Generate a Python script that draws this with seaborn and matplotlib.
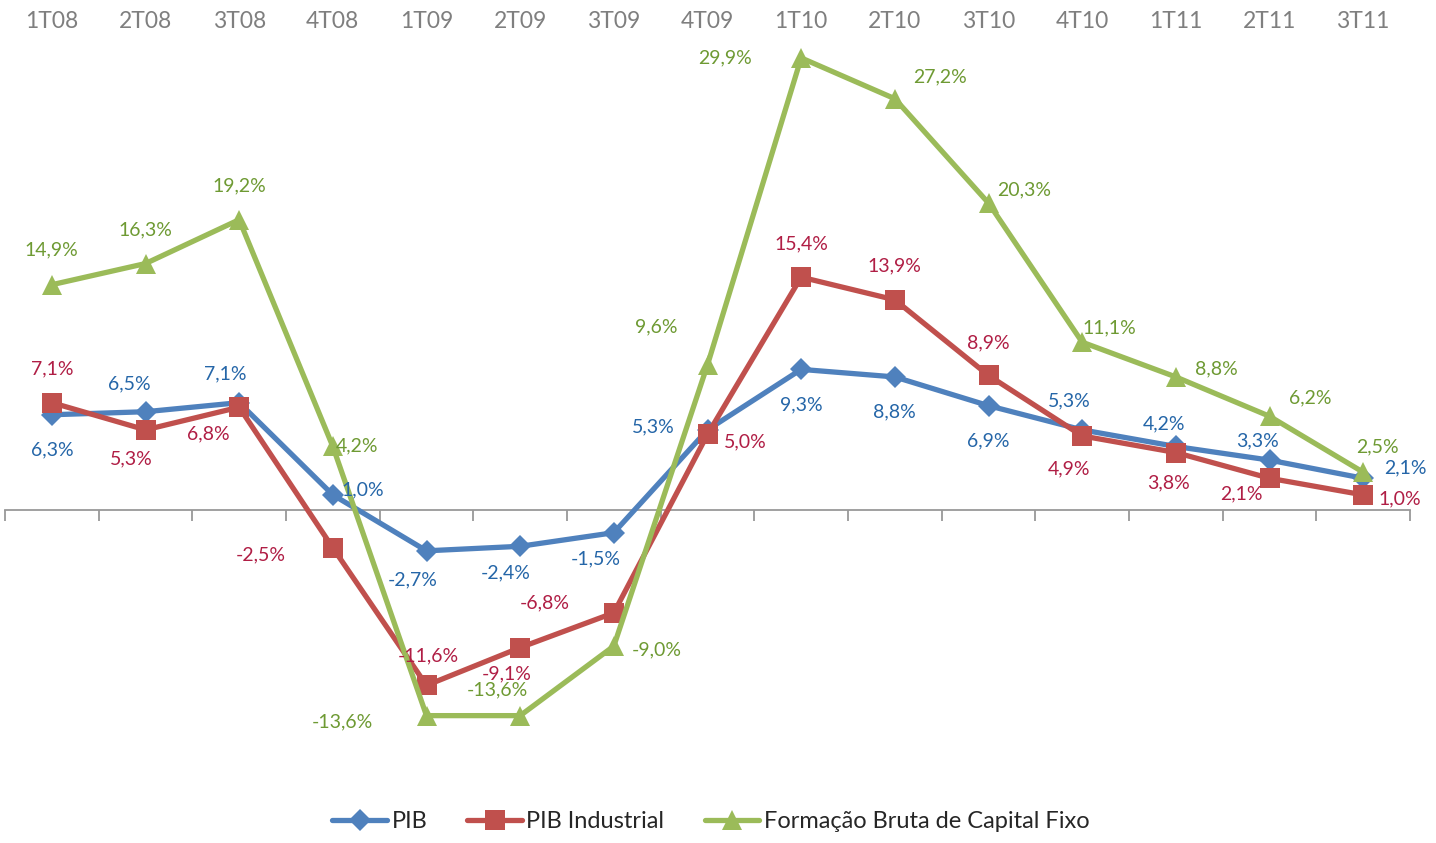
import numpy as np
import pandas as pd
import seaborn as sns
import matplotlib.pyplot as plt

trimestres = ['1T08', '2T08', '3T08', '4T08', '1T09', '2T09', '3T09', '4T09',
              '1T10', '2T10', '3T10', '4T10', '1T11', '2T11', '3T11']
pib = [6.3, 6.5, 7.1, 1.0, -2.7, -2.4, -1.5, 5.3, 9.3, 8.8, 6.9, 5.3, 4.2, 3.3, 2.1]
pib_industrial = [7.1, 5.3, 6.8, -2.5, -11.6, -9.1, -6.8, 5.0, 15.4, 13.9, 8.9, 4.9, 3.8, 2.1, 1.0]
fbcf = [14.9, 16.3, 19.2, 4.2, -13.6, -13.6, -9.0, 9.6, 29.9, 27.2, 20.3, 11.1, 8.8, 6.2, 2.5]
series_nomes = ['PIB', 'PIB Industrial', 'Formação Bruta de Capital Fixo']

# posição dos rótulos em pixels relativos ao ponto (como o Excel colocou)
off_pib = [(0, -35), (-16, 28), (-14, 29), (30, 5), (-14, -29), (-14, -27), (-18, -26),
           (-54, 3), (0, -35), (0, -35), (0, -35), (-13, 29), (-12, 23), (-12, 19), (42, 10)]
off_ind = [(0, 34), (-14, -29), (-31, -27), (-72, -7), (2, 30), (-13, -26), (-69, 10),
           (38, -7), (0, 33), (0, 34), (0, 33), (-13, -33), (-7, -30), (-28, -16), (37, -4)]
off_fbcf = [(0, 35), (0, 34), (0, 34), (24, 1), (-84, -6), (-23, 26), (43, -4),
            (-51, 38), (-76, 0), (45, 22), (36, 13), (27, 14), (41, 8), (41, 18), (14, 25)]

sns.set_style('white')
plt.rcParams['font.family'] = ['Lato', 'DejaVu Sans']

df = pd.DataFrame({'x': np.arange(len(trimestres)), 'PIB': pib,
                   'PIB Industrial': pib_industrial,
                   'Formação Bruta de Capital Fixo': fbcf})

fig = plt.figure(figsize=(14.36, 8.43), dpi=100)
ax = fig.add_axes([5 / 1436, 1 - 770 / 843, 1405 / 1436, 732 / 843])

estilos = [
    ('PIB', '#4F81BD', 'D', 11, '#2566A8', off_pib),
    ('PIB Industrial', '#C0504D', 's', 14, '#B01E45', off_ind),
    ('Formação Bruta de Capital Fixo', '#9BBB59', '^', 14, '#6E9A33', off_fbcf),
]

for k, (nome, cor, mk, ms, cor_txt, offs) in enumerate(estilos):
    sns.lineplot(data=df, x='x', y=nome, ax=ax, color=cor, marker=mk, markersize=ms,
                 markeredgewidth=0, linewidth=3.8, label=nome, legend=False, zorder=3 + k)
    for i, v in enumerate(df[nome]):
        txt = f'{v:.1f}%'.replace('.', ',')
        ax.annotate(txt, (i, v), xytext=offs[i], textcoords='offset pixels',
                    ha='center', va='center', fontsize=14, color=cor_txt, zorder=10)

ax.set_xlim(-0.5, 14.5)
ax.set_ylim(-(770 - 510) / 15.12, (510 - 38) / 15.12)
ax.set_xlabel('')
ax.set_ylabel('')
ax.set_yticks([])

ax.set_xticks(np.arange(len(trimestres)))
ax.set_xticklabels(trimestres)
ax.set_xticks(np.arange(-0.5, 15, 1), minor=True)
ax.tick_params(axis='x', which='major', top=True, labeltop=True, bottom=False,
               labelbottom=False, length=0, pad=4, labelsize=16.5, labelcolor='#7F7F7F')
ax.tick_params(axis='x', which='minor', top=False, bottom=True, length=8, width=1.3,
               color='#999999', direction='out')

for s in ['top', 'left', 'right']:
    ax.spines[s].set_visible(False)
ax.spines['bottom'].set_position(('data', 0))
ax.spines['bottom'].set_color('#999999')
ax.spines['bottom'].set_linewidth(1.3)
ax.spines['bottom'].set_zorder(1)

handles, labels = ax.get_legend_handles_labels()
if ax.get_legend() is not None:
    ax.get_legend().remove()
fig.legend(handles, labels, loc='center', bbox_to_anchor=(0.495, 0.025), ncol=3,
           frameon=False, fontsize=17, handlelength=2.3, handletextpad=0.2,
           columnspacing=1.7, labelcolor='#262626')

fig.savefig('out.png', dpi=100)
